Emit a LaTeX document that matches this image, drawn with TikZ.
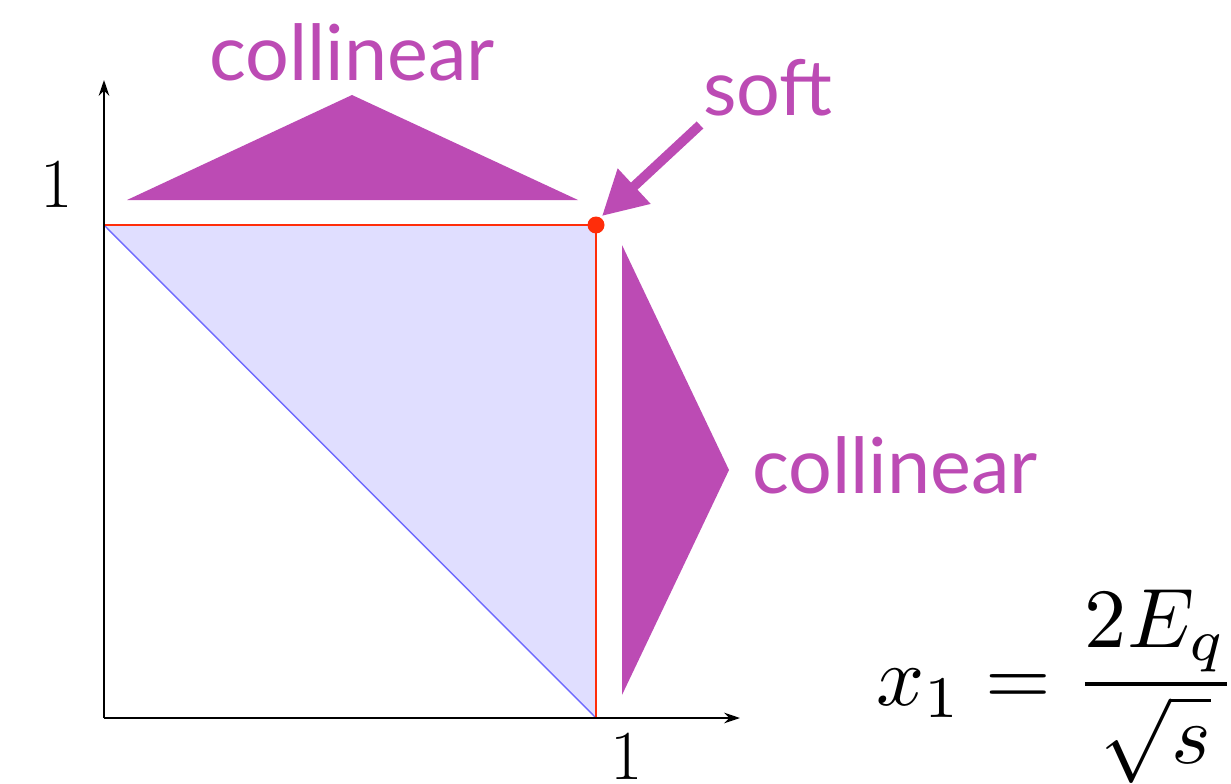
\documentclass[tikz,border=0pt]{standalone}
\usepackage{graphicx}
\usepackage{fontspec}
\setsansfont{Lato}
\usetikzlibrary{arrows.meta}
\definecolor{lilac}{RGB}{188,75,180}
\definecolor{lavender}{RGB}{224,222,255}
\definecolor{edgered}{RGB}{255,45,10}
\definecolor{diagblue}{RGB}{110,105,255}
\begin{document}
\begin{tikzpicture}[x=0.02cm, y=-0.02cm]
\tikzset{
  axis/.style={line width=1.3pt, -{Stealth[length=9pt, width=6pt]}},
  edge/.style={edgered, line width=1.7pt},
  wedge/.style={fill=lilac},
  tag/.style={font=\sffamily\fontsize{44}{50}\selectfont, text=lilac, inner sep=0pt},
  tick/.style={font=\fontsize{40}{46}\selectfont, inner sep=0pt}
}
\useasboundingbox (0,0) rectangle (1231,784);
% corners of the region
\coordinate (O) at (104,718);
\coordinate (A) at (104,225);
\coordinate (B) at (596,225);
\coordinate (C) at (596,718);
\fill[lavender] (A) -- (B) -- (C) -- cycle;
\draw[diagblue, line width=0.8pt] (A) -- (C);
\draw[edge] (A) -- (B) -- (C);
\fill[edgered] (B) circle[radius=0.17cm];
% axes
\draw[axis] (O) -- (104,80);
\draw[axis] (O) -- (740,718);
\node[tick] (one y) at (57,184) {1};
\node[tick] (one x) at (627,756) {1};
% collinear wedges
\fill[wedge] (127,200) -- (352,95) -- (578,200) -- cycle;
\fill[wedge] (622,245) -- (729,470) -- (622,695) -- cycle;
\node[tag] (col top) at (352,52) {collinear};
\node[tag] (col right) at (895,465) {collinear};
\node[tag] (soft) at (768,88) {soft};
\coordinate (soft tail) at (700,125);
\coordinate (soft tip) at (602,216);
\draw[lilac, line width=5.5pt, -{Triangle[length=25pt, width=26pt]}] (soft tail) -- (soft tip);
% momentum fraction
\node[inner sep=0pt, anchor=base east] (frac) at (1237,705)
  {\scalebox{4.8}{$\displaystyle x_1=\frac{2E_q}{\sqrt{s}}$}};
\end{tikzpicture}
\end{document}
